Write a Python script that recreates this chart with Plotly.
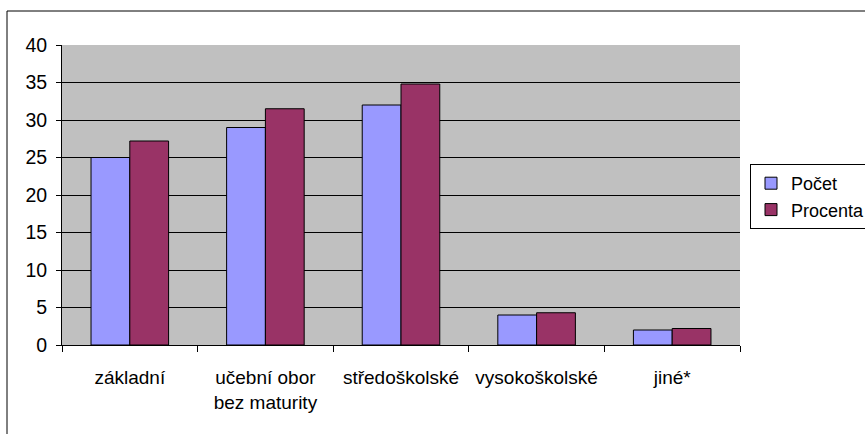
import plotly.graph_objects as go

categories = ["základní", "učební obor<br>bez maturity", "středoškolské", "vysokoškolské", "jiné*"]
pocet = [25, 29, 32, 4, 2]
procenta = [27.2, 31.5, 34.8, 4.3, 2.2]
y_ticks = [0, 5, 10, 15, 20, 25, 30, 35, 40]

W, H = 865, 434
L, R, T, B = 62, 125, 45, 89
pw, ph = W - L - R, H - T - B

def px_x(p):
    return (p - L) / pw

def px_y(p):
    return (H - B - p) / ph

FAMILY = "Liberation Sans, Arial, sans-serif"

fig = go.Figure()
fig.add_trace(go.Bar(name="Počet", x=categories, y=pocet,
                     marker=dict(color="#9999FF", line=dict(color="black", width=1))))
fig.add_trace(go.Bar(name="Procenta", x=categories, y=procenta,
                     marker=dict(color="#993366", line=dict(color="black", width=1))))

fig.update_layout(
    width=W, height=H,
    margin=dict(l=L, r=R, t=T, b=B, pad=0, autoexpand=False),
    paper_bgcolor="white",
    plot_bgcolor="#C0C0C0",
    barmode="group",
    bargap=0.428,
    bargroupgap=0,
    font=dict(family=FAMILY, size=19, color="black"),
    showlegend=True,
    legend=dict(
        x=px_x(750), xanchor="left",
        y=px_y(164), yanchor="top",
        bgcolor="white", bordercolor="black", borderwidth=1,
        font=dict(family=FAMILY, size=18, color="black"),
        tracegroupgap=0,
    ),
    xaxis=dict(
        type="category",
        automargin=False,
        tickangle=0,
        showline=True, linecolor="black", linewidth=1,
        ticks="outside", tickson="boundaries", ticklen=6, tickcolor="black",
        showgrid=False,
        ticklabelstandoff=15,
        tickfont=dict(family=FAMILY, size=19, color="black"),
    ),
    yaxis=dict(
        automargin=False,
        range=[0, 40],
        tickvals=y_ticks,
        showline=True, linecolor="black", linewidth=1,
        ticks="outside", ticklen=5, tickcolor="black",
        showgrid=True, gridcolor="black", gridwidth=1,
        zeroline=False,
        tickfont=dict(family=FAMILY, size=19.5, color="black"),
        ticklabelstandoff=5,
    ),
    shapes=[
        dict(type="rect", xref="paper", yref="paper",
             x0=px_x(7), x1=px_x(880), y0=px_y(445), y1=px_y(11),
             line=dict(color="black", width=1), fillcolor="rgba(0,0,0,0)", layer="below"),
    ],
)

fig.write_html("out.html")
